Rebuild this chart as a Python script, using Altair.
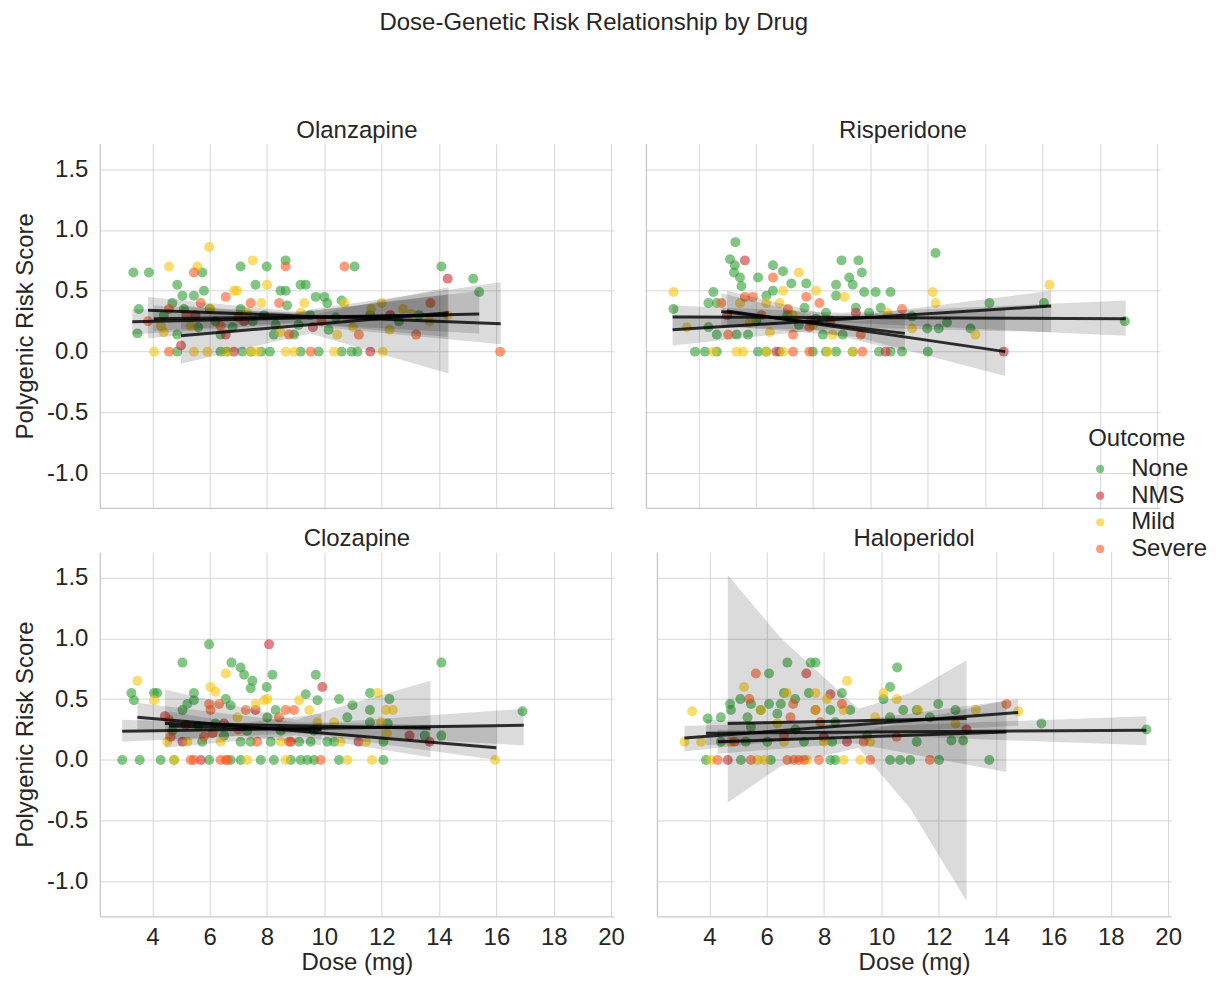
import altair as alt
import pandas as pd

DRUGS = ["Olanzapine", "Risperidone", "Clozapine", "Haloperidol"]
OUTCOMES = ["None", "NMS", "Mild", "Severe"]
COLORS = ["#2f9e34", "#c62f33", "#f6c40f", "#fb5a22"]
X_TICKS = [4, 6, 8, 10, 12, 14, 16, 18, 20]
Y_TICKS = [-1.0, -0.5, 0.0, 0.5, 1.0, 1.5]

# ---------------- scatter points (dose, polygenic risk score) ----------------
OLA_NONE = [(3.34,0.65),(3.88,0.65),(3.53,0.35),(3.48,0.15),(4.87,0.55),(5.05,0.46),(5.45,0.46),(5.8,0.5),
            (5.74,0.65),(7.08,0.7),(7.99,0.7),(8.65,0.75),(7.6,0.55),(8.47,0.5),(8.65,0.5),(9.17,0.55),
            (9.35,0.55),(9.7,0.45),(10.0,0.45),(10.1,0.4),(4.7,0.4),(4.87,0.14),(6.38,0.14),(8.24,0.14),
            (8.94,0.14),(9.1,0.22),(10.15,0.18),(11.05,0.7),(5.1,0.35),(7.08,0.35),(8.7,0.38),(4.87,0.0),
            (6.38,0.0),(6.6,0.0),(7.14,0.0),(7.44,0.0),(7.8,0.0),(8.1,0.0),(9.17,0.0),(9.8,0.0),(10.6,0.0),
            (10.95,0.0),(11.15,0.0),(14.08,0.7),(15.19,0.6),(15.4,0.49),(6.2,0.25),(6.8,0.2),(7.5,0.25),
            (7.9,0.3),(8.3,0.22),(9.5,0.3),(10.4,0.28),(5.6,0.2),(4.4,0.3),(6.0,0.35),(10.6,0.42),(11.6,0.3),
            (12.6,0.25),(13.3,0.3)]
OLA_NMS = [(6.56,0.14),(6.85,0.0),(14.3,0.6),(11.6,0.0),(5.0,0.05),(5.5,0.3),(7.2,0.25),(9.6,0.2),(12.3,0.3)]
OLA_MILD = [(5.98,0.86),(4.58,0.7),(5.57,0.7),(7.5,0.75),(8.0,0.55),(6.85,0.5),(6.95,0.5),(7.8,0.4),(9.3,0.4),
            (10.7,0.4),(4.3,0.21),(4.4,0.16),(5.34,0.21),(6.03,0.35),(7.3,0.32),(8.47,0.16),(10.45,0.14),
            (9.17,0.32),(4.06,0.0),(5.45,0.0),(5.92,0.0),(6.6,0.0),(7.43,0.0),(7.66,0.0),(8.65,0.0),(8.94,0.0),
            (10.34,0.0),(12.0,0.4),(11.63,0.35),(12.74,0.35),(13.03,0.31),(12.27,0.18),(13.67,0.25),(12.04,0.0),
            (11.0,0.2),(14.3,0.3)]
OLA_SEVERE = [(3.85,0.25),(5.45,0.65),(6.56,0.45),(5.69,0.4),(7.43,0.4),(8.42,0.4),(8.65,0.7),(10.7,0.7),
              (8.77,0.14),(6.38,0.21),(4.58,0.35),(4.58,0.0),(9.52,0.0),(11.2,0.14),(13.2,0.14),(13.7,0.4),
              (16.13,0.0),(5.2,0.3),(7.0,0.28),(9.9,0.25)]

RIS_NONE = [(3.13,0.35),(4.52,0.49),(4.35,0.4),(4.64,0.4),(5.29,0.9),(5.1,0.76),(5.27,0.71),(5.24,0.65),
            (5.45,0.61),(5.5,0.54),(6.08,0.61),(6.6,0.71),(6.95,0.66),(7.24,0.56),(7.76,0.56),(6.6,0.5),
            (8.99,0.75),(9.58,0.75),(9.7,0.65),(9.26,0.61),(8.8,0.55),(9.38,0.55),(9.78,0.49),(10.18,0.49),
            (10.7,0.49),(4.35,0.2),(4.64,0.14),(5.33,0.14),(5.73,0.14),(6.02,0.25),(6.37,0.46),(7.7,0.36),
            (8.45,0.32),(8.8,0.46),(9.49,0.36),(9.95,0.32),(10.36,0.36),(8.34,0.14),(9.03,0.14),(3.88,0.0),
            (4.23,0.0),(4.64,0.0),(6.08,0.0),(6.37,0.0),(6.83,0.0),(7.99,0.0),(8.45,0.0),(8.8,0.0),(9.38,0.0),
            (10.3,0.0),(10.7,0.0),(11.1,0.0),(12.27,0.81),(14.15,0.4),(16.05,0.4),(18.87,0.25),(11.45,0.29),
            (11.98,0.19),(12.38,0.19),(12.67,0.24),(13.49,0.19),(12.0,0.0),(7.1,0.3),(7.5,0.22),(8.1,0.27)]
RIS_NMS = [(5.62,0.75),(10.53,0.0),(6.72,0.0),(9.49,0.32),(14.65,0.0),(5.0,0.3),(7.9,0.25)]
RIS_MILD = [(3.13,0.49),(3.6,0.2),(7.5,0.65),(6.95,0.5),(8.1,0.5),(9.09,0.45),(5.45,0.4),(6.37,0.4),(6.83,0.4),
            (5.79,0.24),(6.49,0.16),(8.68,0.14),(10.59,0.32),(4.52,0.0),(5.33,0.0),(5.56,0.0),(6.37,0.0),
            (6.95,0.0),(8.51,0.0),(9.38,0.0),(12.17,0.49),(12.27,0.4),(11.45,0.19),(13.66,0.14),(16.24,0.55),
            (7.3,0.3),(8.0,0.22)]
RIS_SEVERE = [(6.6,0.61),(5.62,0.45),(5.9,0.45),(7.76,0.45),(7.12,0.35),(8.22,0.4),(7.87,0.2),(7.3,0.14),
              (5.04,0.14),(9.66,0.14),(11.1,0.35),(7.3,0.0),(7.87,0.0),(9.72,0.0),(4.8,0.4),(6.2,0.3),(8.6,0.25)]

CLO_NONE = [(5.98,0.95),(5.05,0.8),(6.76,0.8),(7.08,0.76),(7.2,0.7),(7.49,0.65),(7.43,0.59),(8.19,0.7),
            (7.99,0.6),(9.7,0.7),(9.35,0.54),(3.27,0.55),(3.36,0.49),(4.06,0.55),(4.17,0.55),(5.45,0.55),
            (5.22,0.46),(5.05,0.41),(5.45,0.49),(6.56,0.5),(6.73,0.45),(8.01,0.35),(8.3,0.41),(9.76,0.49),
            (10.51,0.5),(10.8,0.35),(10.98,0.45),(7.31,0.24),(8.48,0.24),(9.64,0.24),(7.08,0.15),(7.43,0.15),
            (8.13,0.15),(9.12,0.15),(9.52,0.15),(10.1,0.15),(10.34,0.15),(5.74,0.15),(4.7,0.24),(2.95,0.0),
            (3.56,0.0),(4.29,0.0),(4.76,0.0),(5.98,0.0),(6.73,0.0),(7.08,0.0),(7.78,0.0),(8.24,0.0),(8.83,0.0),
            (9.17,0.0),(9.41,0.0),(9.64,0.0),(10.51,0.0),(14.08,0.8),(16.91,0.4),(11.59,0.55),(12.27,0.5),
            (11.59,0.41),(11.59,0.31),(12.21,0.3),(13.5,0.2),(14.08,0.2),(12.06,0.15),(12.06,0.0),(6.2,0.3),
            (6.5,0.2),(5.6,0.28)]
CLO_NMS = [(8.07,0.95),(9.93,0.6),(4.44,0.36),(7.6,0.41),(5.69,0.0),(5.05,0.15),(8.83,0.15),(12.97,0.2),
           (13.67,0.15),(11.19,0.15),(6.5,0.3)]
CLO_MILD = [(3.48,0.65),(4.06,0.49),(6.56,0.71),(6.03,0.6),(6.2,0.56),(7.9,0.49),(8.01,0.5),(9.12,0.49),
            (9.47,0.41),(7.6,0.46),(6.97,0.35),(9.76,0.31),(10.34,0.31),(4.52,0.15),(5.22,0.15),(6.38,0.15),
            (8.48,0.15),(10.57,0.15),(4.76,0.0),(7.31,0.0),(8.65,0.0),(10.8,0.0),(11.86,0.55),(12.15,0.41),
            (12.39,0.41),(11.98,0.31),(12.18,0.22),(11.45,0.15),(11.66,0.0),(15.95,0.0)]
CLO_SEVERE = [(6.03,0.41),(6.33,0.46),(5.98,0.46),(7.26,0.41),(8.65,0.41),(8.94,0.41),(8.42,0.35),(4.58,0.33),
              (5.16,0.29),(4.64,0.19),(5.8,0.19),(7.66,0.15),(8.77,0.15),(5.34,0.0),(5.45,0.0),(6.38,0.0),
              (6.56,0.0),(6.62,0.0),(9.87,0.0),(7.0,0.25),(6.1,0.22)]

HAL_NONE = [(6.72,0.8),(7.53,0.8),(7.7,0.8),(6.08,0.71),(10.55,0.76),(10.3,0.6),(7.47,0.55),(6.6,0.55),
            (8.62,0.55),(4.72,0.46),(5.08,0.5),(5.45,0.46),(6.08,0.46),(6.49,0.46),(6.99,0.5),(3.94,0.34),
            (4.4,0.35),(4.75,0.41),(5.33,0.35),(5.79,0.41),(6.37,0.38),(8.22,0.41),(8.91,0.41),(10.07,0.5),
            (10.76,0.41),(11.23,0.41),(10.3,0.35),(8.39,0.31),(4.4,0.15),(5.27,0.15),(6.02,0.15),(7.3,0.15),
            (8.28,0.15),(11.23,0.15),(5.45,0.27),(3.88,0.0),(5.1,0.0),(6.14,0.0),(8.22,0.0),(8.39,0.0),
            (10.3,0.0),(10.65,0.0),(11.0,0.0),(11.98,0.46),(12.58,0.41),(11.69,0.35),(12.44,0.16),(12.85,0.16),
            (15.58,0.3),(19.24,0.25),(13.76,0.0),(12.01,0.0),(7.0,0.25),(9.5,0.2)]
HAL_NMS = [(7.38,0.71),(8.22,0.54),(7.7,0.41),(8.8,0.15),(4.64,0.0),(7.99,0.19),(12.97,0.25)]
HAL_MILD = [(3.4,0.4),(3.13,0.15),(3.71,0.15),(5.21,0.6),(6.69,0.55),(5.79,0.41),(7.7,0.55),(8.1,0.5),
            (8.8,0.65),(10.53,0.5),(10.07,0.55),(9.78,0.35),(7.7,0.41),(8.68,0.41),(6.37,0.3),(4.75,0.15),
            (6.6,0.15),(7.99,0.15),(9.61,0.15),(4.06,0.0),(5.68,0.0),(5.91,0.0),(7.41,0.0),(8.68,0.0),(9.26,0.0),
            (11.28,0.41),(13.29,0.41),(12.58,0.3),(14.77,0.4)]
HAL_SEVERE = [(5.62,0.71),(5.39,0.5),(6.92,0.46),(8.62,0.46),(6.83,0.35),(7.87,0.31),(4.87,0.15),(6.6,0.2),
              (9.38,0.15),(10.53,0.19),(4.29,0.0),(5.45,0.0),(6.72,0.0),(6.95,0.0),(7.12,0.0),(7.3,0.0),
              (7.82,0.0),(9.61,0.0),(14.36,0.46),(11.69,0.0)]

POINTS = {
    "Olanzapine": {"None": OLA_NONE, "NMS": OLA_NMS, "Mild": OLA_MILD, "Severe": OLA_SEVERE},
    "Risperidone": {"None": RIS_NONE, "NMS": RIS_NMS, "Mild": RIS_MILD, "Severe": RIS_SEVERE},
    "Clozapine": {"None": CLO_NONE, "NMS": CLO_NMS, "Mild": CLO_MILD, "Severe": CLO_SEVERE},
    "Haloperidol": {"None": HAL_NONE, "NMS": HAL_NMS, "Mild": HAL_MILD, "Severe": HAL_SEVERE},
}

# ---------------- regression lines: (x start, x end), (y start, y end) ----------------
FITS = {
    "Olanzapine": {"None": ([3.3, 15.4], [0.245, 0.31]), "NMS": ([5.0, 14.33], [0.13, 0.32]),
                   "Mild": ([4.05, 14.3], [0.27, 0.30]), "Severe": ([3.85, 16.15], [0.34, 0.23])},
    "Risperidone": {"None": ([3.1, 18.9], [0.285, 0.27]), "NMS": ([5.0, 14.7], [0.335, 0.0]),
                    "Mild": ([3.1, 16.3], [0.18, 0.375]), "Severe": ([4.8, 11.2], [0.33, 0.15])},
    "Clozapine": {"None": ([2.95, 16.95], [0.235, 0.285]), "NMS": ([4.44, 13.7], [0.30, 0.26]),
                  "Mild": ([3.48, 16.0], [0.35, 0.10]), "Severe": ([4.58, 9.9], [0.28, 0.25])},
    "Haloperidol": {"None": ([3.88, 19.24], [0.22, 0.245]), "NMS": ([4.64, 12.97], [0.30, 0.34]),
                    "Mild": ([3.13, 14.77], [0.18, 0.39]), "Severe": ([4.29, 14.36], [0.15, 0.23])},
}

# ---------------- confidence bands: x, lower, upper ----------------
BANDS = {
    "Olanzapine": {
        "None": ([3.3, 9.0, 15.4], [0.14, 0.23, 0.15], [0.35, 0.32, 0.50]),
        "NMS": ([5.0, 9.5, 14.33], [-0.10, 0.15, -0.18], [0.38, 0.30, 0.53]),
        "Mild": ([4.05, 9.0, 14.3], [0.17, 0.24, 0.12], [0.38, 0.32, 0.47]),
        "Severe": ([3.85, 9.0, 16.15], [0.11, 0.22, 0.06], [0.45, 0.33, 0.57]),
    },
    "Risperidone": {
        "None": ([3.1, 9.0, 18.9], [0.18, 0.24, 0.13], [0.38, 0.32, 0.42]),
        "NMS": ([5.0, 9.5, 14.7], [0.21, 0.12, -0.20], [0.50, 0.25, 0.35]),
        "Mild": ([3.1, 9.0, 16.3], [0.05, 0.20, 0.16], [0.30, 0.28, 0.50]),
        "Severe": ([4.8, 8.0, 11.2], [0.20, 0.18, 0.00], [0.48, 0.30, 0.32]),
    },
    "Clozapine": {
        "None": ([2.95, 9.0, 16.95], [0.15, 0.22, 0.12], [0.33, 0.29, 0.42]),
        "NMS": ([4.44, 9.0, 13.7], [0.10, 0.20, 0.02], [0.58, 0.33, 0.65]),
        "Mild": ([3.48, 9.0, 16.0], [0.25, 0.23, 0.00], [0.47, 0.31, 0.28]),
        "Severe": ([4.58, 7.0, 9.9], [0.15, 0.20, 0.12], [0.40, 0.30, 0.38]),
    },
    "Haloperidol": {
        "None": ([3.88, 10.0, 19.24], [0.12, 0.20, 0.12], [0.33, 0.28, 0.36]),
        "NMS": ([4.64, 6.5, 9.2, 11.0, 12.97], [-0.35, -0.05, 0.10, -0.40, -1.16], [1.52, 1.00, 0.42, 0.55, 0.82]),
        "Mild": ([3.13, 9.0, 14.77], [0.07, 0.22, 0.28], [0.28, 0.32, 0.50]),
        "Severe": ([4.29, 9.0, 14.36], [0.05, 0.14, -0.10], [0.25, 0.22, 0.49]),
    },
}

pt_rows, line_rows, band_rows = [], [], []
for d in DRUGS:
    for o in OUTCOMES:
        for x, y in POINTS[d][o]:
            pt_rows.append({"drug": d, "outcome": o, "dose": x, "prs": y})
        xs, ys = FITS[d][o]
        for x, y in zip(xs, ys):
            line_rows.append({"drug": d, "outcome": o, "dose": x, "prs": y})
        bx, lo, hi = BANDS[d][o]
        for x, a, b in zip(bx, lo, hi):
            band_rows.append({"drug": d, "outcome": o, "dose": x, "lo": a, "hi": b})

pts_df = pd.DataFrame(pt_rows)
line_df = pd.DataFrame(line_rows)
band_df = pd.DataFrame(band_rows)

FONT = "Liberation Sans"
TXT = "#262626"
FS = 24
XS = alt.Scale(domain=[2.17, 20.1], nice=False, zero=False)
YS = alt.Scale(domain=[-1.285, 1.71], nice=False, zero=False)
MINUS_FIX = "replace(datum.label, '\u2212', '-')"


def axes(bottom, left):
    xa = alt.Axis(values=X_TICKS, labels=bottom, title="Dose (mg)" if bottom else "", format="d",
                  grid=True, gridColor="#d6d6d6", gridWidth=1, ticks=False,
                  domainColor="#c8c8c8", domainWidth=1.3, labelFontSize=FS, labelColor=TXT,
                  labelPadding=9, titleFontSize=FS, titleFontWeight="normal", titleColor=TXT,
                  titlePadding=1, labelFont=FONT, titleFont=FONT)
    ya = alt.Axis(values=Y_TICKS, labels=left, title="Polygenic Risk Score" if left else "", format=".1f",
                  labelExpr=MINUS_FIX,
                  grid=True, gridColor="#d6d6d6", gridWidth=1, ticks=False,
                  domainColor="#c8c8c8", domainWidth=1.3, labelFontSize=FS, labelColor=TXT,
                  labelPadding=12, titleFontSize=FS, titleFontWeight="normal", titleColor=TXT,
                  titlePadding=9, labelFont=FONT, titleFont=FONT)
    return xa, ya


def panel(drug, bottom, left):
    xa, ya = axes(bottom, left)
    pts = alt.Chart(pts_df[pts_df.drug == drug]).mark_circle(size=100, opacity=0.6).encode(
        x=alt.X("dose:Q", scale=XS, axis=xa),
        y=alt.Y("prs:Q", scale=YS, axis=ya),
        color=alt.Color("outcome:N", scale=alt.Scale(domain=OUTCOMES, range=COLORS),
                        legend=alt.Legend(title="Outcome")),
    )
    band = alt.Chart(band_df[band_df.drug == drug]).mark_area(color="black", opacity=0.14).encode(
        x=alt.X("dose:Q", scale=XS, axis=xa),
        y=alt.Y("lo:Q", scale=YS, axis=ya),
        y2="hi:Q",
        detail="outcome:N",
    )
    line = alt.Chart(line_df[line_df.drug == drug]).mark_line(color="black", opacity=0.8, strokeWidth=3).encode(
        x=alt.X("dose:Q", scale=XS, axis=xa),
        y=alt.Y("prs:Q", scale=YS, axis=ya),
        detail="outcome:N",
    )
    return alt.layer(pts, band, line).properties(
        width=515, height=365,
        title=alt.TitleParams(drug, fontSize=FS, fontWeight="normal", color=TXT, font=FONT, offset=1),
    )


top = alt.hconcat(panel("Olanzapine", False, True), panel("Risperidone", False, False), spacing=32)
bot = alt.hconcat(panel("Clozapine", True, True), panel("Haloperidol", True, False), spacing=32)

chart = alt.vconcat(top, bot, spacing=19).properties(
    title=alt.TitleParams("Dose-Genetic Risk Relationship by Drug", fontSize=FS, fontWeight="normal",
                          color=TXT, font=FONT, anchor="middle", offset=84, dx=-17),
    padding={"left": 5, "top": 2, "right": 0, "bottom": 0},
).configure(font=FONT).configure_view(strokeWidth=0).configure_legend(
    orient="none", legendX=990, legendY=284, titleFontSize=FS, titleFontWeight="normal", titleColor=TXT,
    labelFontSize=FS, labelColor=TXT, titleFont=FONT, labelFont=FONT, symbolSize=70, rowPadding=2.7,
    titlePadding=6, labelOffset=19, symbolType="circle",
)

chart.save("out.html", embed_options={"renderer": "svg", "actions": False})
